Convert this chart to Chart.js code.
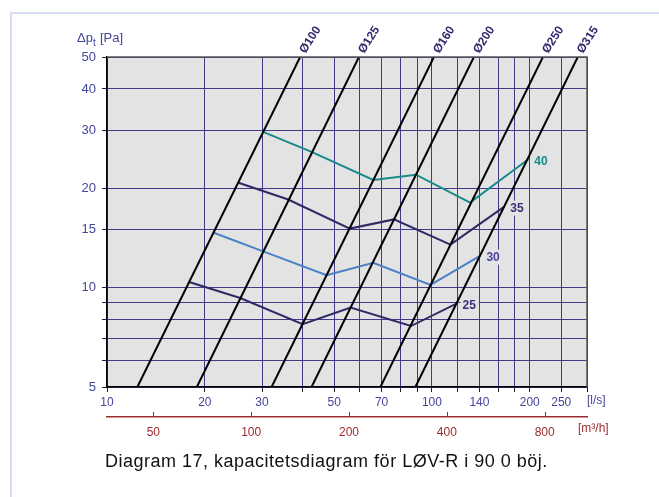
<!DOCTYPE html>
<html>
<head>
<meta charset="utf-8">
<script src="https://cdn.jsdelivr.net/npm/chart.js@4.4.1/dist/chart.umd.min.js"></script>
<style>
  html, body { margin: 0; padding: 0; background: #fff; overflow: hidden; }
  #frame { position: absolute; left: 10px; top: 12px; width: 700px; height: 520px;
           border-left: 2px solid #d6ddf2; border-top: 2px solid #d6ddf2; }
  #wrap { position: absolute; left: 0; top: 0; width: 659px; height: 497px; }
</style>
</head>
<body>
<div id="frame"></div>
<div id="wrap"><canvas id="chart" width="659" height="497"></canvas></div>
<script>
// --- axes ---
const flowGrid = [10, 20, 30, 40, 50, 60, 70, 80, 90, 100, 120, 140, 160, 180, 200, 250, 300];
const flowTickLabels = [10, 20, 30, 50, 70, 100, 140, 200, 250];
const pressureGrid = [5, 6, 7, 8, 9, 10, 15, 20, 30, 40, 50];
const pressureTickLabels = [5, 10, 15, 20, 30, 40, 50];
const m3hTicks = [50, 100, 200, 400, 800];
const LS_TO_M3H = 3.6;

// --- duct size lines (flow in l/s at 5 Pa and at 50 Pa) ---
const ductNames = ['Ø100', 'Ø125', 'Ø160', 'Ø200', 'Ø250', 'Ø315'];
const ductFlowAt5Pa = [12.4, 18.9, 32.1, 42.6, 69.4, 88.9];
const ductFlowAt50Pa = [39.3, 59.6, 101.4, 134.6, 219.5, 281];

// --- sound level curves ---
const soundLevels = ['25', '30', '35', '40'];
const flow25 = [17.9, 25.7, 40.0, 56.2, 86.2, 119];
const dp25 = [10.4, 9.3, 7.75, 8.7, 7.65, 8.95];
const flow30 = [21.2, 30.1, 47.4, 66.0, 99.0, 141];
const dp30 = [14.7, 12.9, 10.9, 11.9, 10.2, 12.5];
const flow35 = [25.4, 36.1, 55.9, 76.4, 114, 167];
const dp35 = [20.8, 18.5, 15.1, 16.1, 13.5, 17.6];
const flow40 = [30.1, 42.6, 66.0, 89.3, 131, 198];
const dp40 = [29.7, 25.8, 21.2, 22.0, 18.1, 24.5];

const levelFlows = [flow25, flow30, flow35, flow40];
const levelDps = [dp25, dp30, dp35, dp40];
const levelColors = ['#2f2a66', '#4a80c8', '#2f2a66', '#178a8a'];
const levelLabelColors = ['#35307a', '#4747a0', '#35307a', '#178a8a'];

const gridColor = '#423b88';
const tickTextColor = '#45459a';
const m3hColor = '#9b2a2a';
const plotBg = '#e3e3e3';

Chart.defaults.font.family = '"Liberation Sans", Arial, sans-serif';
Chart.defaults.font.size = 12;

const datasets = [];
ductNames.forEach((name, i) => {
    datasets.push({
        label: name,
        data: [{ x: ductFlowAt5Pa[i], y: 5 }, { x: ductFlowAt50Pa[i], y: 50 }],
        borderColor: '#000',
        borderWidth: 2
    });
});
soundLevels.forEach((lvl, i) => {
    datasets.push({
        label: lvl,
        data: levelFlows[i].map((q, j) => ({ x: q, y: levelDps[i][j] })),
        borderColor: levelColors[i],
        borderWidth: 2
    });
});
const firstLevelIndex = ductNames.length;

const decorations = {
    id: 'decorations',
    beforeDraw(chart) {
        const { ctx, chartArea: a } = chart;
        ctx.save();
        ctx.fillStyle = plotBg;
        ctx.fillRect(a.left, a.top, a.width, a.height);
        ctx.restore();
    },
    beforeDatasetsDraw(chart) {
        // background boxes behind the sound level labels
        const { ctx } = chart;
        ctx.save();
        ctx.font = 'bold 12px "Liberation Sans", Arial, sans-serif';
        soundLevels.forEach((lvl, i) => {
            const pts = chart.getDatasetMeta(firstLevelIndex + i).data;
            const p = pts[pts.length - 1];
            const w = ctx.measureText(lvl).width;
            ctx.fillStyle = plotBg;
            ctx.fillRect(p.x + 4, p.y - 6, w + 5, 15);
        });
        ctx.restore();
    },
    afterDatasetsDraw(chart) {
        const { ctx, chartArea: a, scales } = chart;
        const xs = scales.x, ys = scales.y, x2 = scales.x2;
        ctx.save();

        // top and right frame of the plot
        ctx.strokeStyle = '#555';
        ctx.lineWidth = 1.5;
        ctx.beginPath();
        ctx.moveTo(a.left, a.top);
        ctx.lineTo(a.right, a.top);
        ctx.lineTo(a.right, a.bottom);
        ctx.stroke();

        // sound level labels
        ctx.font = 'bold 12px "Liberation Sans", Arial, sans-serif';
        ctx.textAlign = 'left';
        ctx.textBaseline = 'middle';
        soundLevels.forEach((lvl, i) => {
            const pts = chart.getDatasetMeta(firstLevelIndex + i).data;
            const p = pts[pts.length - 1];
            ctx.fillStyle = levelLabelColors[i];
            ctx.fillText(lvl, p.x + 6, p.y + 2);
        });

        // duct labels, rotated
        ctx.fillStyle = '#2e2a6c';
        ctx.textBaseline = 'alphabetic';
        ductNames.forEach((name, i) => {
            const px = xs.getPixelForValue(ductFlowAt50Pa[i]);
            const py = ys.getPixelForValue(50);
            ctx.save();
            ctx.translate(px + 5, py - 3);
            ctx.rotate(-57 * Math.PI / 180);
            ctx.fillText(name, 0, 0);
            ctx.restore();
        });

        // y axis title
        ctx.fillStyle = tickTextColor;
        ctx.font = '13px "Liberation Sans", Arial, sans-serif';
        ctx.fillText('\u0394p', 77, 42);
        ctx.font = '10px "Liberation Sans", Arial, sans-serif';
        ctx.fillText('t', 93, 46);
        ctx.font = '13px "Liberation Sans", Arial, sans-serif';
        ctx.fillText('[Pa]', 100, 42);

        // unit labels
        ctx.font = '12px "Liberation Sans", Arial, sans-serif';
        ctx.textBaseline = 'middle';
        ctx.fillText('[l/s]', 587, 401);
        ctx.fillStyle = m3hColor;
        ctx.fillText('[m\u00b3/h]', 578, 429);

        // m3/h tick marks above its axis line
        ctx.strokeStyle = m3hColor;
        ctx.lineWidth = 1;
        m3hTicks.forEach(v => {
            const px = Math.round(x2.getPixelForValue(v)) + 0.5;
            ctx.beginPath();
            ctx.moveTo(px, x2.top - 5);
            ctx.lineTo(px, x2.top);
            ctx.stroke();
        });

        // caption
        ctx.fillStyle = '#111';
        ctx.font = '18px "Liberation Sans", Arial, sans-serif';
        ctx.letterSpacing = '0.5px';
        ctx.textBaseline = 'alphabetic';
        ctx.fillText('Diagram 17, kapacitetsdiagram för LØV-R i 90 0 böj.', 105, 467);
        ctx.restore();
    }
};

new Chart(document.getElementById('chart'), {
    type: 'scatter',
    data: { datasets },
    options: {
        responsive: false,
        animation: false,
        showLine: true,
        elements: { point: { radius: 0 }, line: { tension: 0, fill: false } },
        layout: { padding: { left: 0, top: 57, right: 72, bottom: 52 } },
        plugins: { legend: { display: false }, tooltip: { enabled: false } },
        scales: {
            x: {
                type: 'logarithmic',
                position: 'bottom',
                min: 10,
                max: 300,
                weight: 0,
                afterBuildTicks: s => { s.ticks = flowGrid.map(v => ({ value: v })); },
                afterFit: s => { s.height = 30; },
                ticks: {
                    autoSkip: false,
                    maxRotation: 0,
                    color: tickTextColor,
                    padding: 3,
                    callback: v => flowTickLabels.includes(v) ? String(v) : ''
                },
                grid: { color: gridColor, lineWidth: 1, tickColor: '#222', tickLength: 5 },
                border: { color: '#000', width: 1.5 }
            },
            x2: {
                type: 'logarithmic',
                position: 'bottom',
                min: 10 * LS_TO_M3H,
                max: 300 * LS_TO_M3H,
                weight: 1,
                afterBuildTicks: s => { s.ticks = m3hTicks.map(v => ({ value: v })); },
                afterFit: s => { s.height = 28; },
                ticks: {
                    autoSkip: false,
                    maxRotation: 0,
                    color: m3hColor,
                    padding: 8,
                    callback: v => String(v)
                },
                grid: { display: true, drawOnChartArea: false, drawTicks: false },
                border: { color: m3hColor, width: 1.5 }
            },
            y: {
                type: 'logarithmic',
                position: 'left',
                min: 5,
                max: 50,
                afterBuildTicks: s => { s.ticks = pressureGrid.map(v => ({ value: v })); },
                afterFit: s => { s.width = 107; },
                ticks: {
                    autoSkip: false,
                    color: tickTextColor,
                    padding: 6,
                    font: { size: 13 },
                    callback: v => pressureTickLabels.includes(v) ? String(v) : ''
                },
                grid: { color: gridColor, lineWidth: 1, tickColor: '#222', tickLength: 5 },
                border: { color: '#000', width: 1.5 }
            }
        }
    },
    plugins: [decorations]
});
</script>
</body>
</html>
